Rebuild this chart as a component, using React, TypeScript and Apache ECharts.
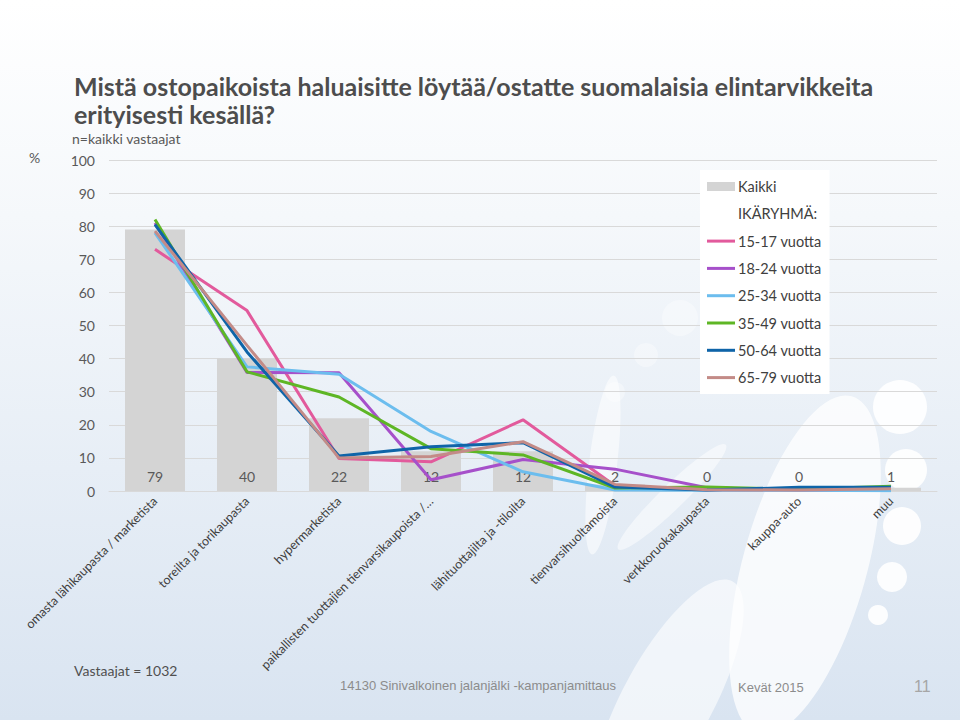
import React, { useEffect, useRef } from "react";
import * as echarts from "echarts";

const categories = [
  "omasta lähikaupasta / marketista",
  "toreilta ja torikaupasta",
  "hypermarketista",
  "paikallisten tuottajien tienvarsikaupoista /…",
  "lähituottajilta ja -tiloilta",
  "tienvarsihuoltamoista",
  "verkkoruokakaupasta",
  "kauppa-auto",
  "muu",
];

const kaikki = [79, 40, 22, 12, 12, 2, 0, 0, 1];
const age15_17 = [73, 54.5, 9.8, 8.8, 21.5, 1.6, 0.3, 0.3, 0.3];
const age18_24 = [81, 35.8, 35.7, 3.4, 9.5, 6.6, 1.0, 0.3, 0.4];
const age25_34 = [78, 37.5, 35.3, 18, 5.8, 0.3, 0.2, 0.2, 0.1];
const age35_49 = [82, 36, 28.4, 12.8, 10.9, 0.9, 1.2, 0.5, 1.4];
const age50_64 = [80.5, 42, 10.6, 13.4, 14.6, 1.2, 0.3, 1.1, 1.1];
const age65_79 = [78.5, 44, 10, 10.4, 14.9, 2, 0.4, 0.3, 0.7];

const lineSeries = [
  { name: "15-17 vuotta", data: age15_17, color: "#E25A9C" },
  { name: "18-24 vuotta", data: age18_24, color: "#A650CA" },
  { name: "25-34 vuotta", data: age25_34, color: "#6CBDEE" },
  { name: "35-49 vuotta", data: age35_49, color: "#5EB625" },
  { name: "50-64 vuotta", data: age50_64, color: "#0F64A8" },
  { name: "65-79 vuotta", data: age65_79, color: "#C38B87" },
];

const FONT = "Lato, 'Open Sans', sans-serif";
const LINE_ICON = "path://M0,0 L28,0 L28,3 L0,3 Z";

export default function App() {
  const ref = useRef<HTMLDivElement>(null);

  useEffect(() => {
    if (!ref.current) return;
    const chart = echarts.init(ref.current, undefined, { renderer: "svg" });

    const W = "rgba(255,255,255,0.75)";
    const deco: any[] = [
      { type: "ellipse", shape: { cx: 0, cy: 0, rx: 62, ry: 175 }, x: 805, y: 565, rotation: -0.27, style: { fill: W }, z: -10, silent: true },
      { type: "ellipse", shape: { cx: 0, cy: 0, rx: 45, ry: 135 }, x: 668, y: 700, rotation: -0.5, style: { fill: "rgba(255,255,255,0.6)" }, z: -10, silent: true },
      { type: "ellipse", shape: { cx: 0, cy: 0, rx: 14, ry: 90 }, x: 603, y: 465, rotation: -0.12, style: { fill: "rgba(255,255,255,0.55)" }, z: -10, silent: true },
      { type: "ellipse", shape: { cx: 0, cy: 0, rx: 12, ry: 75 }, x: 672, y: 497, rotation: -0.8, style: { fill: "rgba(255,255,255,0.5)" }, z: -10, silent: true },
      { type: "circle", shape: { cx: 900, cy: 407, r: 27 }, style: { fill: "rgba(255,255,255,0.9)" }, z: -10, silent: true },
      { type: "circle", shape: { cx: 906, cy: 470, r: 21 }, style: { fill: "rgba(255,255,255,0.9)" }, z: -10, silent: true },
      { type: "circle", shape: { cx: 902, cy: 526, r: 19 }, style: { fill: "rgba(255,255,255,0.9)" }, z: -10, silent: true },
      { type: "circle", shape: { cx: 892, cy: 577, r: 15 }, style: { fill: "rgba(255,255,255,0.9)" }, z: -10, silent: true },
      { type: "circle", shape: { cx: 878, cy: 615, r: 10 }, style: { fill: "rgba(255,255,255,0.9)" }, z: -10, silent: true },
      { type: "circle", shape: { cx: 680, cy: 318, r: 18 }, style: { fill: "rgba(255,255,255,0.35)" }, z: -10, silent: true },
      { type: "circle", shape: { cx: 646, cy: 355, r: 12 }, style: { fill: "rgba(255,255,255,0.35)" }, z: -10, silent: true },
      { type: "circle", shape: { cx: 615, cy: 392, r: 10 }, style: { fill: "rgba(255,255,255,0.35)" }, z: -10, silent: true },
    ];

    const texts: any[] = [
      { type: "text", left: 29, top: 150, style: { text: "%", font: `14px ${FONT}`, fill: "#595959" } },
      { type: "text", left: 72, top: 131, style: { text: "n=kaikki vastaajat", font: `14px ${FONT}`, fill: "#595959" } },
      { type: "text", left: 74, top: 663, style: { text: "Vastaajat = 1032", font: `14px ${FONT}`, fill: "#505050" } },
      { type: "text", left: 340, top: 679, style: { text: "14130 Sinivalkoinen jalanjälki -kampanjamittaus", font: "13px 'Liberation Sans', Arial, sans-serif", fill: "#8C8C8C" } },
      { type: "text", left: 738, top: 681, style: { text: "Kevät 2015", font: "13px 'Liberation Sans', Arial, sans-serif", fill: "#8C8C8C" } },
      { type: "text", left: 914, top: 678, style: { text: "11", font: "16px 'Liberation Sans', Arial, sans-serif", fill: "#A6A6A6" } },
    ];

    const option: any = {
      animation: false,
      backgroundColor: {
        type: "linear", x: 0, y: 0, x2: 0, y2: 1,
        colorStops: [
          { offset: 0, color: "#FFFFFF" },
          { offset: 0.3, color: "#F5F8FB" },
          { offset: 1, color: "#D9E4F1" },
        ],
      },
      title: {
        text: "Mistä ostopaikoista haluaisitte löytää/ostatte suomalaisia elintarvikkeita\nerityisesti kesällä?",
        left: 74,
        top: 72,
        padding: 0,
        textStyle: { fontFamily: FONT, fontSize: 25, fontWeight: "bold", color: "#4D4D4D", lineHeight: 28 },
      },
      graphic: [...deco, ...texts],
      legend: {
        orient: "vertical",
        left: 700,
        top: 170,
        padding: [9, 8, 9, 7],
        backgroundColor: "#FFFFFF",
        itemWidth: 28,
        itemHeight: 9,
        itemGap: 12.3,
        selectedMode: false,
        textStyle: { fontFamily: FONT, fontSize: 14.5, color: "#404040", padding: [0, 0, 0, -2] },
        data: [
          { name: "Kaikki", icon: "rect" },
          { name: "IKÄRYHMÄ:", icon: "none" },
          ...lineSeries.map((s) => ({ name: s.name, icon: LINE_ICON, itemStyle: { color: s.color } })),
        ],
      },
      grid: { left: 109, right: 23, top: 160, bottom: 229 },
      xAxis: {
        type: "category",
        data: categories,
        axisLine: { lineStyle: { color: "#D9D9D9", width: 1 } },
        axisTick: { show: false },
        axisLabel: { interval: 0, rotate: 45, margin: 8, fontFamily: FONT, fontSize: 12.5, color: "#404040" },
      },
      yAxis: {
        type: "value",
        min: 0,
        max: 100,
        interval: 10,
        axisLine: { show: false },
        axisTick: { show: false },
        splitLine: { lineStyle: { color: "#D9D9D9", width: 1 } },
        axisLabel: { margin: 14, fontFamily: FONT, fontSize: 14, color: "#595959" },
      },
      series: [
        {
          name: "Kaikki",
          type: "bar",
          data: kaikki,
          barWidth: 60,
          itemStyle: { color: "#D4D4D4" },
          label: { show: true, position: "insideBottom", distance: 8, fontFamily: FONT, fontSize: 14, color: "#595959" },
          z: 1,
        },
        { name: "IKÄRYHMÄ:", type: "line", data: [], symbol: "none", itemStyle: { color: "rgba(0,0,0,0)" }, lineStyle: { width: 0 } },
        ...lineSeries.map((s) => ({
          name: s.name,
          type: "line",
          data: s.data,
          symbol: "none",
          showSymbol: false,
          itemStyle: { color: s.color },
          lineStyle: { color: s.color, width: 3 },
          z: 3,
        })),
      ],
    };

    chart.setOption(option);
    return () => chart.dispose();
  }, []);

  return (
    <div
      ref={ref}
      style={{ position: "fixed", left: 0, top: 0, width: 960, height: 720 }}
    />
  );
}
